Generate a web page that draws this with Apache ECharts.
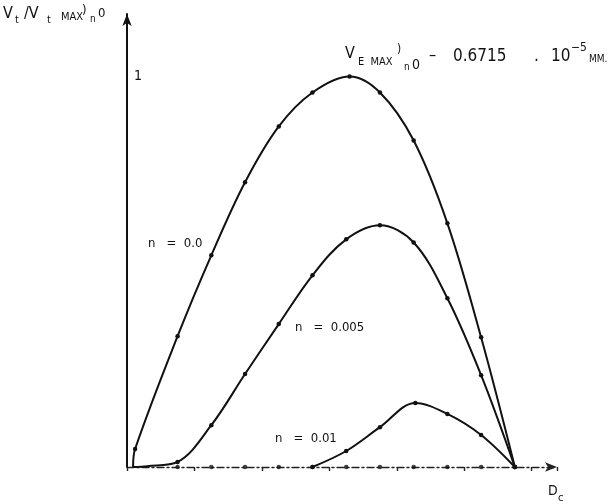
<!DOCTYPE html>
<html><head><meta charset="utf-8">
<script src="https://cdn.jsdelivr.net/npm/echarts@6/dist/echarts.min.js"></script>
<style>html,body{margin:0;padding:0;background:#fff}#c{width:610px;height:504px}</style>
</head><body><div id="c"></div>
<script>
// curve n = 0.0
const n00X = [0.18, 0.24, 1.5, 2.5, 3.5, 4.5, 5.5, 6.6, 7.5, 8.5, 9.5, 10.5, 11.5];
const n00Y = [0, 0.046, 0.335, 0.542, 0.729, 0.872, 0.959, 1.0, 0.959, 0.836, 0.624, 0.332, 0];
// curve n = 0.005
const n005X = [0.18, 0.6, 1.5, 2.5, 3.5, 4.5, 5.5, 6.5, 7.5, 8.5, 9.5, 10.5, 11.5];
const n005Y = [0, 0.002, 0.013, 0.107, 0.238, 0.366, 0.491, 0.583, 0.619, 0.575, 0.432, 0.235, 0];
// curve n = 0.01
const n01X = [5.5, 6.5, 7.5, 8.55, 9.5, 10.5, 11.5];
const n01Y = [0, 0.041, 0.102, 0.164, 0.136, 0.082, 0];
// dots along the abscissa
const axisDotX = [1.5, 2.5, 3.5, 4.5, 5.5, 6.5, 7.5, 8.5, 9.5, 10.5];
const yTickLabels = {1: '1'};
const curveNames = ['n   =  0.0', 'n   =  0.005', 'n   =  0.01'];

const pair = (xs, ys) => xs.map((x, i) => [x, ys[i]]);
const font = "'DejaVu Sans Condensed','Liberation Sans Narrow','DejaVu Sans',sans-serif";
const ink = '#111';

const lineSeries = (name, xs, ys, noDot) => ({
  name, type: 'line', smooth: 0.35, data: pair(xs, ys).map((p, i) => ({
    value: p, symbolSize: (noDot && noDot.includes(i)) ? 0 : 4.5
  })),
  symbol: 'circle', lineStyle: {color: ink, width: 2}, itemStyle: {color: ink},
  animation: false, z: 3
});

const txt = (left, top, text, size) => ({type: 'text', left, top,
  style: {text, fontSize: size, fontFamily: font, fill: ink}});

const chart = echarts.init(document.getElementById('c'));
chart.setOption({
  backgroundColor: '#fff',
  animation: false,
  grid: {left: 127, right: 53, top: 14, bottom: 37, containLabel: false},
  xAxis: {
    type: 'value', min: 0, max: 12.75, interval: 2,
    axisLine: {show: true, symbol: ['none', 'arrow'], symbolSize: [7, 12], symbolOffset: [0, 0],
      lineStyle: {color: '#222', width: 1.4, type: [7, 3, 2, 3]}},
    axisTick: {show: true, length: 4, lineStyle: {color: '#222', width: 1.4}},
    axisLabel: {show: false}, splitLine: {show: false}
  },
  yAxis: {
    type: 'value', min: 0, max: 1.16, interval: 1,
    axisLine: {show: true, onZero: false, symbol: ['none', 'arrow'], symbolSize: [7, 12],
      lineStyle: {color: ink, width: 2}},
    axisTick: {show: false},
    axisLabel: {show: true, inside: true, margin: 7, showMaxLabel: false,
      formatter: v => yTickLabels[v] || '', color: ink, fontSize: 14, fontFamily: font},
    splitLine: {show: false}
  },
  series: [
    lineSeries(curveNames[0], n00X, n00Y, [0]),
    lineSeries(curveNames[1], n005X, n005Y, [0, 1]),
    lineSeries(curveNames[2], n01X, n01Y, []),
    {type: 'scatter', data: axisDotX.map(x => [x, 0]), symbolSize: 4.5,
      itemStyle: {color: ink}, animation: false, z: 4}
  ],
  graphic: [
    // ordinate label
    txt(3, 6, 'V', 16),
    txt(15, 15, 't', 11),
    txt(24, 6, '/V', 16),
    txt(47, 15, 't', 11),
    txt(61, 12, 'MAX', 11),
    txt(82, 4, ')', 13),
    txt(90, 14, 'n', 10),
    txt(98, 7, '0', 13),
    // constant
    txt(345, 46, 'V', 16),
    txt(358, 57, 'E  MAX', 11),
    txt(397, 44, ')', 12),
    txt(404, 62, 'n', 10),
    txt(412, 58, '0', 14),
    txt(429, 48, '\u2013', 16),
    txt(453, 48, '0.6715', 17),
    txt(534, 48, '.', 17),
    txt(551, 48, '10', 17),
    txt(571, 42, '\u22125', 12),
    txt(589, 54, 'MM.', 10),
    // curve labels
    txt(148, 237, curveNames[0], 13),
    txt(295, 321, curveNames[1], 13),
    txt(275, 432, curveNames[2], 13),
    // abscissa label
    txt(548, 484, 'D', 14),
    txt(558, 493, 'c', 11)
  ]
});
</script></body></html>
